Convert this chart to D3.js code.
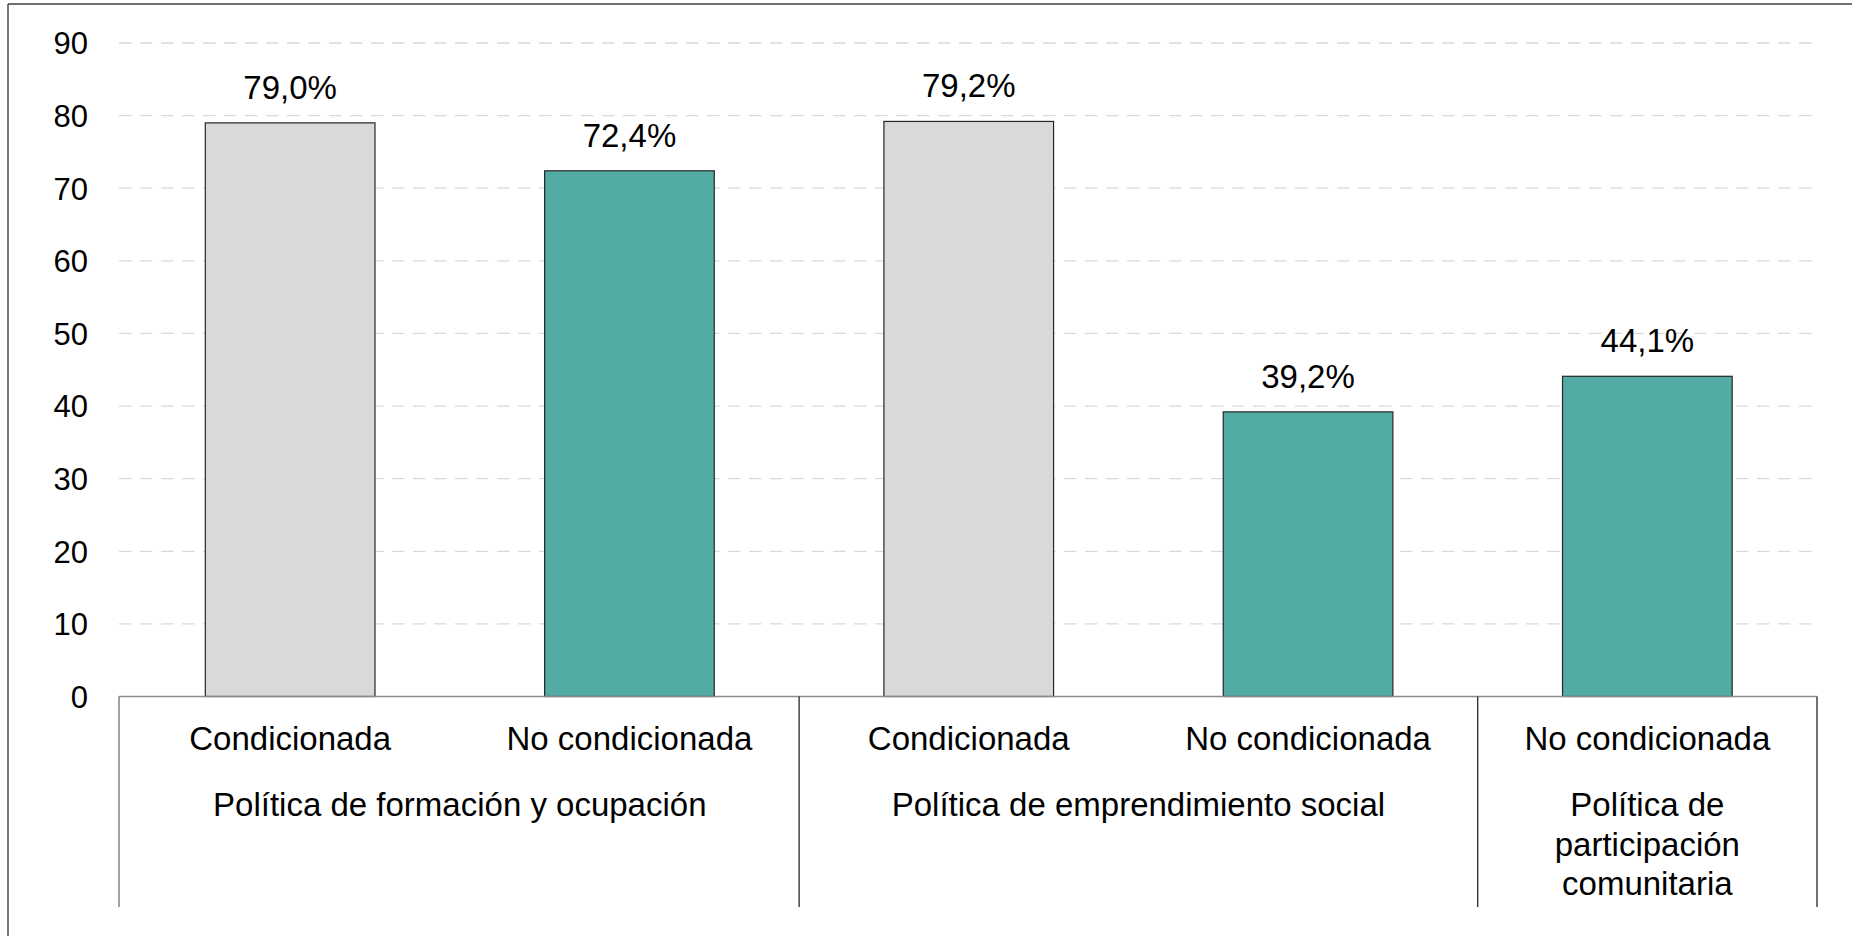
<!DOCTYPE html>
<html>
<head>
<meta charset="utf-8">
<script src="https://cdn.jsdelivr.net/npm/d3@7"></script>
<style>
  html, body { margin: 0; padding: 0; background: #ffffff; }
  svg { display: block; }
  text { font-family: "Liberation Sans", Arial, sans-serif; fill: #000; }
</style>
</head>
<body>
<svg id="chart" width="1852" height="936"></svg>
<script>
// ---- Data ----
const categories = ["Condicionada", "No condicionada", "Condicionada", "No condicionada", "No condicionada"];
const values = [79.0, 72.4, 79.2, 39.2, 44.1];
const valueLabels = ["79,0%", "72,4%", "79,2%", "39,2%", "44,1%"];
const seriesType = ["cond", "nocond", "cond", "nocond", "nocond"];
const groups = [
  ["Política de formación y ocupación"],
  ["Política de emprendimiento social"],
  ["Política de", "participación", "comunitaria"]
];
const groupSpans = [[0, 2], [2, 4], [4, 5]]; // [start index, end index)
const yTicks = [0, 10, 20, 30, 40, 50, 60, 70, 80, 90];

// ---- Layout ----
const svg = d3.select("#chart");
const gridLeft = 119, plotLeft = 120.5, plotRight = 1817, plotTop = 43, plotBottom = 696.5;
const sepBottom = 907;

const x = d3.scaleBand()
  .domain(d3.range(categories.length))
  .range([plotLeft, plotRight])
  .paddingInner(0.5)
  .paddingOuter(0.25);
const step = x.step();

const y = d3.scaleLinear().domain([0, 90]).range([plotBottom, plotTop]);

const colors = { cond: "#d9d9d9", nocond: "#52aca4" };

// Outer frame (left & top only visible)
svg.append("line").attr("x1", 8).attr("x2", 8).attr("y1", 4).attr("y2", 936)
  .attr("stroke", "#595959").attr("stroke-width", 1.6);
svg.append("line").attr("x1", 8).attr("x2", 1852).attr("y1", 4).attr("y2", 4)
  .attr("stroke", "#404040").attr("stroke-width", 1.6);

// Gridlines
svg.append("g").selectAll("line")
  .data(yTicks.filter(d => d > 0))
  .join("line")
  .attr("x1", gridLeft).attr("x2", plotRight)
  .attr("y1", d => y(d)).attr("y2", d => y(d))
  .attr("stroke", "#d9d9d9").attr("stroke-width", 1.3)
  .attr("stroke-dasharray", "12.5,8.5");

// Y axis tick labels (no axis line)
const yAxis = d3.axisLeft(y).tickValues(yTicks).tickSize(0).tickPadding(0);
const yg = svg.append("g").attr("transform", `translate(88,0)`).call(yAxis);
yg.select(".domain").remove();
yg.selectAll("text")
  .attr("font-size", "31px")
  .attr("font-family", "Liberation Sans, Arial, sans-serif")
  .attr("fill", "#000")
  .attr("x", 0)
  .attr("dy", "0.35em");

// Bars
svg.append("g").selectAll("rect")
  .data(values)
  .join("rect")
  .attr("x", (d, i) => x(i))
  .attr("width", x.bandwidth())
  .attr("y", d => y(d))
  .attr("height", d => y(0) - y(d))
  .attr("fill", (d, i) => colors[seriesType[i]])
  .attr("stroke", "#262626")
  .attr("stroke-width", 1.2);

// Value labels
svg.append("g").selectAll("text")
  .data(values)
  .join("text")
  .attr("x", (d, i) => x(i) + x.bandwidth() / 2)
  .attr("y", d => y(d) - 24)
  .attr("text-anchor", "middle")
  .attr("font-size", "33px")
  .text((d, i) => valueLabels[i]);

// Category axis line
svg.append("line")
  .attr("x1", gridLeft).attr("x2", plotRight)
  .attr("y1", y(0)).attr("y2", y(0))
  .attr("stroke", "#8c8c8c").attr("stroke-width", 1.6);

// Group separators
const sepXs = [gridLeft].concat(groupSpans.map(s => plotLeft + s[1] * step));
svg.append("g").selectAll("line")
  .data(sepXs)
  .join("line")
  .attr("x1", d => d).attr("x2", d => d)
  .attr("y1", y(0)).attr("y2", sepBottom)
  .attr("stroke", (d, i) => i === 0 ? "#6e6e6e" : "#262626")
  .attr("stroke-width", 1.3);

// Category labels
svg.append("g").selectAll("text")
  .data(categories)
  .join("text")
  .attr("x", (d, i) => x(i) + x.bandwidth() / 2)
  .attr("y", 750)
  .attr("text-anchor", "middle")
  .attr("font-size", "33px")
  .text(d => d);

// Group labels
const gg = svg.append("g");
groups.forEach((lines, gi) => {
  const cx = plotLeft + (groupSpans[gi][0] + groupSpans[gi][1]) / 2 * step;
  const t = gg.append("text")
    .attr("x", cx).attr("y", 816)
    .attr("text-anchor", "middle")
    .attr("font-size", "33px");
  lines.forEach((ln, li) => {
    t.append("tspan").attr("x", cx).attr("dy", li === 0 ? 0 : 39.5).text(ln);
  });
});
</script>
</body>
</html>
